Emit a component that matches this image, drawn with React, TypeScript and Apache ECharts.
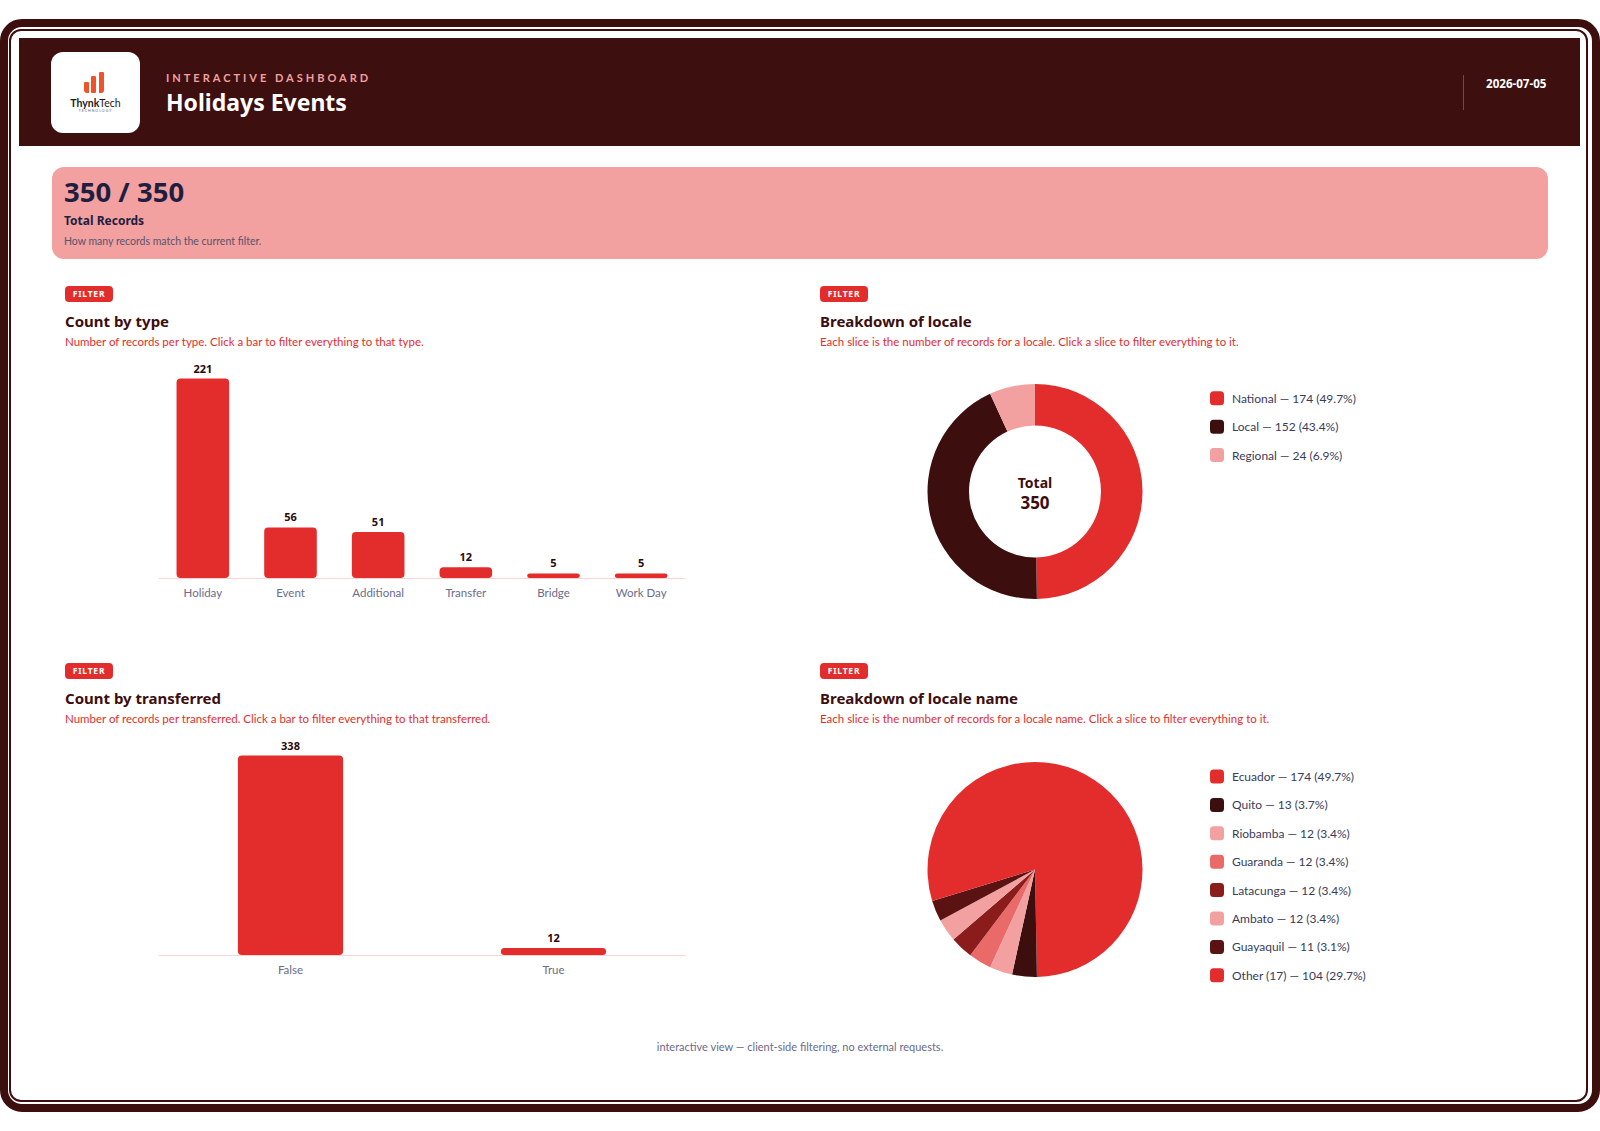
import React, { useEffect, useRef } from "react";
import * as echarts from "echarts";

// ---- data ----
const typeCategories = ["Holiday", "Event", "Additional", "Transfer", "Bridge", "Work Day"];
const typeCounts = [221, 56, 51, 12, 5, 5];

const transferredCategories = ["False", "True"];
const transferredCounts = [338, 12];

const localeNames = ["National", "Local", "Regional"];
const localeCounts = [174, 152, 24];
const localeColors = ["#e32d2d", "#3d0e0e", "#f2a0a0"];

const localeNameNames = ["Ecuador", "Quito", "Riobamba", "Guaranda", "Latacunga", "Ambato", "Guayaquil", "Other (17)"];
const localeNameCounts = [174, 13, 12, 12, 12, 12, 11, 104];
const localeNameColors = ["#e32d2d", "#3d0e0e", "#f2a0a0", "#ea6a6a", "#8b1c1c", "#f2a0a0", "#5a1212", "#e32d2d"];

const totalRecords = 350;
const matchedRecords = 350;
const reportDate = "2026-07-05";

// ---- style ----
const FONT = "Lato, 'Noto Sans', sans-serif";
const BOLD_FONT = "'Noto Sans', Lato, sans-serif";
const DARK = "#3d0e0e";
const RED = "#e32d2d";
const PINK = "#f2a0a0";
const MUTED = "#6b6b8a";

const sum = (a: number[]) => a.reduce((s, v) => s + v, 0);

function legendFormatter(names: string[], values: number[]) {
  const total = sum(values);
  return (name: string) => {
    const i = names.indexOf(name);
    const v = values[i];
    return `${name} — ${v} (${((v / total) * 100).toFixed(1)}%)`;
  };
}

function buildOption() {
  const barLabel = {
    show: true,
    position: "top" as const,
    distance: 5,
    color: "#2b0b0b",
    fontWeight: "bold" as const,
    fontSize: 11,
    fontFamily: BOLD_FONT,
  };
  const xAxisBase = {
    type: "category" as const,
    axisLine: { lineStyle: { color: "#fbd3d3", width: 1 } },
    axisTick: { show: false },
    axisLabel: { color: MUTED, fontSize: 11.5, margin: 8, fontFamily: FONT },
  };
  const legendBase = {
    orient: "vertical" as const,
    left: 1210,
    padding: 0,
    itemWidth: 14,
    itemHeight: 14,
    itemGap: 14.4,
    icon: "roundRect",
    selectedMode: false,
    textStyle: { color: "#3b3b58", fontSize: 12, lineHeight: 14, fontFamily: FONT, padding: [0, 0, 0, 3] },
  };
  return {
    animation: false,
    textStyle: { fontFamily: FONT },
    grid: [
      { left: 159, width: 526, top: 378.6, height: 199.4 },
      { left: 159, width: 526, top: 755.6, height: 199.4 },
    ],
    xAxis: [
      { ...xAxisBase, gridIndex: 0, data: typeCategories },
      { ...xAxisBase, gridIndex: 1, data: transferredCategories },
    ],
    yAxis: [
      { gridIndex: 0, type: "value", min: 0, max: "dataMax", show: false },
      { gridIndex: 1, type: "value", min: 0, max: "dataMax", show: false },
    ],
    legend: [
      {
        ...legendBase,
        top: 391.3,
        data: localeNames,
        formatter: legendFormatter(localeNames, localeCounts),
      },
      {
        ...legendBase,
        top: 769.5,
        data: localeNameNames,
        formatter: legendFormatter(localeNameNames, localeNameCounts),
      },
    ],
    series: [
      {
        type: "bar",
        xAxisIndex: 0,
        yAxisIndex: 0,
        data: typeCounts,
        barWidth: "60%",
        itemStyle: { color: RED, borderRadius: 4 },
        label: barLabel,
      },
      {
        type: "bar",
        xAxisIndex: 1,
        yAxisIndex: 1,
        data: transferredCounts,
        barWidth: "40%",
        itemStyle: { color: RED, borderRadius: 4 },
        label: barLabel,
      },
      {
        type: "pie",
        center: [1035, 491.5],
        radius: [66, 107.5],
        startAngle: 90,
        clockwise: true,
        label: { show: false },
        labelLine: { show: false },
        emphasis: { scale: false },
        data: localeNames.map((n, i) => ({ name: n, value: localeCounts[i], itemStyle: { color: localeColors[i] } })),
      },
      {
        type: "pie",
        center: [1035, 869.5],
        radius: [0, 107.5],
        startAngle: 90,
        clockwise: true,
        label: { show: false },
        labelLine: { show: false },
        emphasis: { scale: false },
        data: localeNameNames.map((n, i) => ({ name: n, value: localeNameCounts[i], itemStyle: { color: localeNameColors[i] } })),
      },
    ],
    graphic: [
      {
        type: "text",
        x: 1035,
        y: 482.5,
        style: { text: "Total", fill: DARK, font: `bold 14px ${BOLD_FONT}`, align: "center", verticalAlign: "middle" },
      },
      {
        type: "text",
        x: 1035,
        y: 502.5,
        style: { text: String(sum(localeCounts)), fill: DARK, font: `bold 17px ${BOLD_FONT}`, align: "center", verticalAlign: "middle" },
      },
    ],
  };
}

type TProps = {
  x: number;
  cy: number;
  size: number;
  weight?: number;
  color: string;
  ls?: number;
  center?: boolean;
  font?: string;
  children: React.ReactNode;
};

function T({ x, cy, size, weight = 400, color, ls = 0, center = false, font, children }: TProps) {
  const h = Math.round(size * 1.4);
  return (
    <div
      style={{
        position: "absolute",
        left: center ? x - 400 : x,
        width: center ? 800 : undefined,
        textAlign: center ? "center" : "left",
        top: cy - h / 2,
        height: h,
        lineHeight: `${h}px`,
        fontSize: size,
        fontWeight: weight,
        fontFamily: font ?? FONT,
        color,
        letterSpacing: ls,
        whiteSpace: "nowrap",
      }}
    >
      {children}
    </div>
  );
}

function Box(props: { x: number; y: number; w: number; h: number; style?: React.CSSProperties }) {
  return (
    <div
      style={{
        position: "absolute",
        left: props.x,
        top: props.y,
        width: props.w,
        height: props.h,
        boxSizing: "border-box",
        ...props.style,
      }}
    />
  );
}

function PanelHeading({ x, y, title, subtitle }: { x: number; y: number; title: string; subtitle: string }) {
  return (
    <>
      <div
        style={{
          position: "absolute",
          left: x,
          top: y,
          width: 48,
          height: 16,
          borderRadius: 4,
          background: RED,
          color: "#fff",
          fontFamily: BOLD_FONT,
          fontSize: 8.5,
          fontWeight: 700,
          letterSpacing: 0.8,
          lineHeight: "16px",
          textAlign: "center",
        }}
      >
        FILTER
      </div>
      <T x={x} cy={y + 35} size={15} weight={700} color={DARK} font={BOLD_FONT}>
        {title}
      </T>
      <T x={x} cy={y + 55.5} size={11.5} color={RED}>
        {subtitle}
      </T>
    </>
  );
}

export default function App() {
  const chartRef = useRef<HTMLDivElement>(null);

  useEffect(() => {
    if (!chartRef.current) return;
    const chart = echarts.init(chartRef.current, undefined, { renderer: "svg" });
    chart.setOption(buildOption() as any);
    return () => chart.dispose();
  }, []);

  return (
    <div
      style={{
        position: "absolute",
        left: 0,
        top: 0,
        width: 1600,
        height: 1131,
        background: "#fff",
        overflow: "hidden",
        fontFamily: FONT,
      }}
    >
      {/* frame */}
      <Box x={0} y={19} w={1600} h={1093} style={{ border: `8px solid ${DARK}`, borderRadius: 22 }} />
      <Box x={9} y={29} w={1579} h={1073} style={{ border: `2px solid ${DARK}`, borderRadius: 12 }} />

      {/* header */}
      <Box x={19} y={38} w={1561} h={108} style={{ background: "#3e0f0f" }} />
      <Box x={51} y={52} w={89} h={81} style={{ background: "#fff", borderRadius: 12 }} />
      <Box x={84} y={82} w={5} h={11} style={{ background: "#f0532a", borderRadius: "1px 1px 0 3px" }} />
      <Box x={91} y={76} w={5} h={17} style={{ background: "#f0532a", borderRadius: 1 }} />
      <Box x={98.5} y={72} w={5.5} h={21} style={{ background: "#f0532a", borderRadius: "1px 1px 3px 0" }} />
      <T x={95.5} cy={103} size={10.5} color="#1a1a1a" center>
        <span style={{ fontWeight: 700 }}>Thynk</span>Tech
      </T>
      <T x={95.5} cy={111.5} size={3.5} color="#666" ls={1} center>
        TECHNOLOGY
      </T>
      <T x={166} cy={77.5} size={11} weight={700} color={PINK} ls={3.0}>
        INTERACTIVE DASHBOARD
      </T>
      <T x={166} cy={102} size={23} weight={700} color="#fff" font={BOLD_FONT}>
        Holidays Events
      </T>
      <Box x={1463} y={75} w={1} h={35} style={{ background: "rgba(255,255,255,0.25)" }} />
      <T x={1486} cy={84} size={11.6} weight={700} color="#fff" font={BOLD_FONT}>
        {reportDate}
      </T>

      {/* KPI card */}
      <Box x={52} y={167} w={1496} h={92} style={{ background: PINK, borderRadius: 12 }} />
      <T x={64} cy={191.5} size={27.5} weight={700} color="#1e1e40" font={BOLD_FONT}>
        {matchedRecords} / {totalRecords}
      </T>
      <T x={64} cy={220} size={12} weight={700} color="#1e1e40" font={BOLD_FONT}>
        Total Records
      </T>
      <T x={64} cy={241} size={10.5} color="#55556b">
        How many records match the current filter.
      </T>

      {/* panel headings */}
      <PanelHeading
        x={65}
        y={286}
        title="Count by type"
        subtitle="Number of records per type. Click a bar to filter everything to that type."
      />
      <PanelHeading
        x={820}
        y={286}
        title="Breakdown of locale"
        subtitle="Each slice is the number of records for a locale. Click a slice to filter everything to it."
      />
      <PanelHeading
        x={65}
        y={663}
        title="Count by transferred"
        subtitle="Number of records per transferred. Click a bar to filter everything to that transferred."
      />
      <PanelHeading
        x={820}
        y={663}
        title="Breakdown of locale name"
        subtitle="Each slice is the number of records for a locale name. Click a slice to filter everything to it."
      />

      {/* charts */}
      <div ref={chartRef} style={{ position: "absolute", left: 0, top: 0, width: 1600, height: 1131 }} />

      {/* footer */}
      <T x={800} cy={1046} size={11} color={MUTED} center>
        interactive view — client-side filtering, no external requests.
      </T>
    </div>
  );
}
